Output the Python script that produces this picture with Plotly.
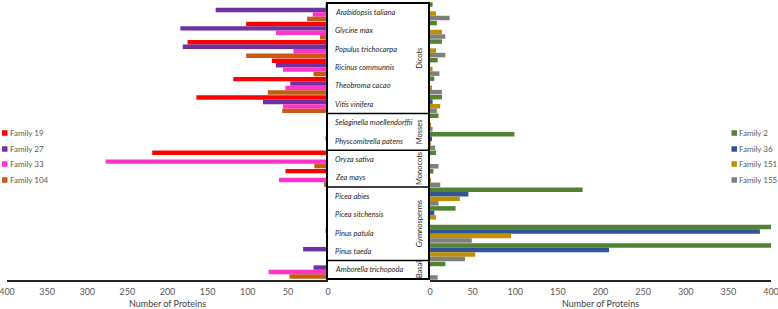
import plotly.graph_objects as go

species = ["Arabidopsis taliana", "Glycine max", "Populus trichocarpa", "Ricinus communnis",
           "Theobroma cacao", "Vitis vinifera", "Selaginella moellendorffii", "Physcomitrella patens",
           "Oryza sativa", "Zea mays", "Picea abies", "Picea sitchensis", "Pinus patula",
           "Pinus taeda", "Amborella trichopoda"]

groups = ["Dicots", "Mosses", "Monocots", "Gymnosperms", "Basal"]
group_first = [0, 6, 8, 10, 14]
group_last = [5, 7, 9, 13, 14]

# Left panel families
fam19 = [3, 102, 175, 70, 118, 164, 0, 0, 219, 53, 0, 0, 0, 1, 0]
fam27 = [140, 184, 181, 65, 47, 81, 0, 3, 0, 0, 0, 0, 3, 31, 18]
fam33 = [19, 65, 43, 56, 53, 56, 0, 0, 277, 61, 0, 0, 0, 0, 74]
fam104 = [26, 10, 102, 18, 75, 57, 0, 0, 17, 5, 0, 0, 0, 0, 48]

# Right panel families
fam2 = [3, 8, 14, 9, 5, 14, 10, 99, 7, 4, 179, 30, 400, 400, 18]
fam36 = [0, 0, 0, 0, 0, 3, 0, 2, 0, 0, 45, 5, 387, 210, 0]
fam151 = [7, 14, 7, 3, 2, 12, 1, 1, 0, 1, 35, 7, 95, 53, 0]
fam155 = [23, 18, 18, 11, 14, 8, 3, 6, 10, 12, 10, 0, 49, 41, 9]

left_names = ["Family 19", "Family 27", "Family 33", "Family 104"]
right_names = ["Family 2", "Family 36", "Family 151", "Family 155"]
left_vals = [fam19, fam27, fam33, fam104]
right_vals = [fam2, fam36, fam151, fam155]
left_colors = ["#FF0000", "#7030A0", "#FF33CC", "#C55A11"]
right_colors = ["#548235", "#2F5597", "#BF9000", "#7F7F7F"]

W, H = 778, 309
FONT = "Lato"
TXT = "#595959"

def px(x):
    return x / W

def py(y):
    return 1 - y / H

fig = go.Figure()
for n, v, c in zip(left_names, left_vals, left_colors):
    fig.add_trace(go.Bar(y=species, x=v, orientation="h", name=n, marker_color=c,
                         marker_line_width=0, xaxis="x", yaxis="y", showlegend=False))
for n, v, c in zip(right_names, right_vals, right_colors):
    fig.add_trace(go.Bar(y=species, x=v, orientation="h", name=n, marker_color=c,
                         marker_line_width=0, xaxis="x2", yaxis="y2", showlegend=False))

ydom = [py(280), py(2)]
axis_common = dict(dtick=50, tick0=0, showgrid=False, zeroline=False, showline=True,
                   linecolor="#262626", linewidth=1.5, ticks="", automargin=False,
                   ticklabeloverflow="allow",
                   tickfont=dict(family=FONT, size=9, color=TXT), ticklabelstandoff=2,
                   title=dict(text="Number of Proteins", font=dict(family=FONT, size=9, color="#404040"),
                              standoff=6))
fig.update_layout(
    width=W, height=H, margin=dict(l=0, r=0, t=0, b=0),
    paper_bgcolor="white", plot_bgcolor="white",
    barmode="group", bargap=0.03, bargroupgap=0,
    showlegend=False,
    font=dict(family=FONT),
    xaxis=dict(domain=[px(7), px(328)], range=[400, 0], anchor="y", **axis_common),
    xaxis2=dict(domain=[px(430), px(771)], range=[0, 400], anchor="y2", **axis_common),
    yaxis=dict(domain=ydom, type="category", categoryorder="array", categoryarray=species,
               autorange="reversed", showticklabels=False, showgrid=False, zeroline=False,
               showline=False, anchor="x"),
    yaxis2=dict(domain=ydom, type="category", categoryorder="array", categoryarray=species,
                autorange="reversed", showticklabels=False, showgrid=False, zeroline=False,
                showline=False, anchor="x2"),
)

shapes = []
annotations = []
# central panel box
shapes.append(dict(type="rect", xref="paper", yref="y", x0=px(327), x1=px(429), y0=-0.5, y1=14.5,
                   line=dict(color="black", width=2), fillcolor="rgba(0,0,0,0)", layer="above"))
for gl in group_last[:-1]:
    shapes.append(dict(type="line", xref="paper", yref="y", x0=px(327), x1=px(429),
                       y0=gl + 0.5, y1=gl + 0.5, line=dict(color="black", width=1.5), layer="above"))
for s in species:
    annotations.append(dict(x=px(334), y=s, xref="paper", yref="y", xanchor="left", yanchor="middle",
                            text="<i>" + s + "</i>", showarrow=False, borderpad=0,
                            font=dict(family=FONT, size=7.5, color="#262626")))
for g, a, b in zip(groups, group_first, group_last):
    annotations.append(dict(x=px(419.5), y=(a + b) / 2, xref="paper", yref="y", xanchor="center",
                            yanchor="middle", text=g, textangle=-90, showarrow=False, borderpad=0,
                            font=dict(family=FONT, size=7.5, color="#262626")))

# manual legends
leg_y = [133, 149, 164, 180]
for i, (n, c) in enumerate(zip(left_names, left_colors)):
    yy = leg_y[i]
    shapes.append(dict(type="rect", xref="paper", yref="paper", x0=px(2), x1=px(7.5),
                       y0=py(yy + 2.75), y1=py(yy - 2.75), fillcolor=c, line=dict(width=0)))
    annotations.append(dict(x=px(9), y=py(yy), xref="paper", yref="paper", xanchor="left",
                            yanchor="middle", text=n, showarrow=False, borderpad=0,
                            font=dict(family=FONT, size=8, color=TXT)))
for i, (n, c) in enumerate(zip(right_names, right_colors)):
    yy = leg_y[i]
    shapes.append(dict(type="rect", xref="paper", yref="paper", x0=px(731.5), x1=px(737),
                       y0=py(yy + 2.75), y1=py(yy - 2.75), fillcolor=c, line=dict(width=0)))
    annotations.append(dict(x=px(738), y=py(yy), xref="paper", yref="paper", xanchor="left",
                            yanchor="middle", text=n, showarrow=False, borderpad=0,
                            font=dict(family=FONT, size=8, color=TXT)))

fig.update_layout(shapes=shapes, annotations=annotations)
fig.write_html("out.html", config={"displayModeBar": False},
               post_script="document.body.style.margin='0';document.body.style.padding='0';"
                           "document.body.style.overflow='hidden';")
